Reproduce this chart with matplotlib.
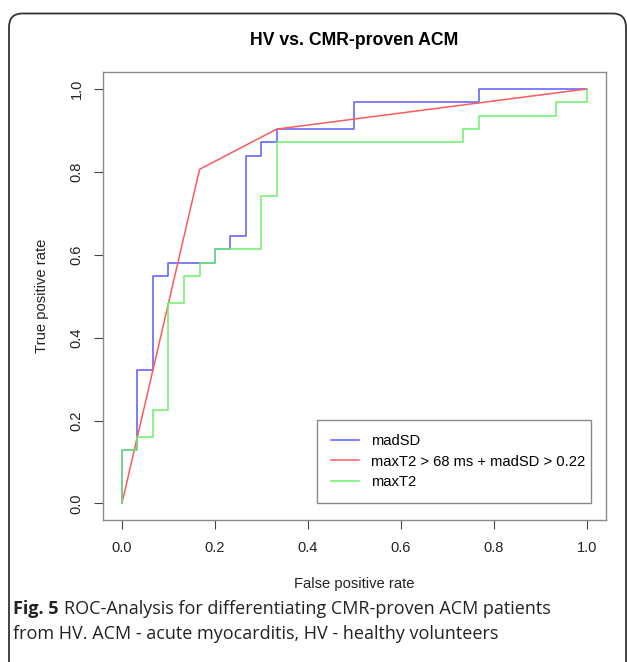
import matplotlib
matplotlib.use("Agg")
import matplotlib.pyplot as plt
from matplotlib.patches import FancyBboxPatch

plt.rcParams['font.family'] = ['Liberation Sans', 'DejaVu Sans']

# ROC points (false positive rate, true positive rate)
fpr_madsd = [0, 0, 0.033, 0.067, 0.100, 0.200, 0.233, 0.267, 0.300, 0.333, 0.500, 0.767, 1.0]
tpr_madsd = [0, 0.129, 0.323, 0.548, 0.581, 0.613, 0.645, 0.839, 0.871, 0.903, 0.968, 1.0, 1.0]

fpr_maxt2 = [0, 0, 0.033, 0.067, 0.100, 0.133, 0.167, 0.200, 0.300, 0.333, 0.733, 0.767, 0.933, 1.0]
tpr_maxt2 = [0, 0.129, 0.161, 0.226, 0.484, 0.548, 0.581, 0.613, 0.742, 0.871, 0.903, 0.935, 0.968, 1.0]

fpr_comb = [0, 0.167, 0.333, 1.0]
tpr_comb = [0, 0.806, 0.903, 1.0]

labels = ['madSD', 'maxT2 > 68 ms + madSD > 0.22', 'maxT2']
ticks = [0.0, 0.2, 0.4, 0.6, 0.8, 1.0]

W, H = 627, 662
fig = plt.figure(figsize=(W / 100, H / 100), dpi=100)

# rounded frame around figure + caption (bottom runs off the image)
frame = FancyBboxPatch((9 / W, -0.03), (626 - 9) / W, 1 - 13.5 / H + 0.03,
                       boxstyle="round,pad=0,rounding_size=0.021",
                       transform=fig.transFigure, fill=False,
                       edgecolor='#333333', linewidth=1.3)
fig.patches.append(frame)

ax = fig.add_axes([103.3 / W, 1 - 520 / H, 502.4 / W, 447.7 / H])
ax.plot(fpr_madsd, tpr_madsd, drawstyle='steps-post', color='#5a5aff', lw=1.1, label=labels[0])
ax.plot(fpr_comb, tpr_comb, color='#ff5a5a', lw=1.1, label=labels[1])
ax.plot(fpr_maxt2, tpr_maxt2, drawstyle='steps-post', color='#6cf06c', lw=1.1, label=labels[2])

ax.set_xlim(-0.04, 1.04)
ax.set_ylim(-0.04, 1.04)
ax.set_xticks(ticks)
ax.set_yticks(ticks)
ax.set_xticklabels(['%.1f' % t for t in ticks])
ax.set_yticklabels(['%.1f' % t for t in ticks], rotation=90, va='center')
ax.tick_params(direction='out', length=6.5, width=0.8, colors='#444444',
               labelsize=10.5, labelcolor='#222222')
ax.tick_params(axis='x', pad=8.5)
ax.tick_params(axis='y', pad=7.5)
for s in ax.spines.values():
    s.set_color('#8a8a8a')
    s.set_linewidth(1.0)

ax.set_xlabel('False positive rate', fontsize=10.6, color='#222222', labelpad=16)
ax.set_ylabel('True positive rate', fontsize=10.6, color='#222222', labelpad=15)
ax.set_title('HV vs. CMR-proven ACM', fontsize=12.7, fontweight='bold', pad=20)

leg = ax.legend(loc='lower left', bbox_to_anchor=(0.426, 0.0386, 0.544, 0.18),
                mode='expand', fontsize=10.6, handlelength=1.85, handletextpad=0.85,
                borderpad=0.95, labelspacing=0.42, borderaxespad=0,
                fancybox=False, framealpha=1)
leg.get_frame().set_edgecolor('#888888')
leg.get_frame().set_linewidth(1.0)

# caption: bold "Fig. 5" followed by regular text
cap_font = ['Open Sans', 'DejaVu Sans']
fig_lbl = fig.text(13 / W, 1 - 614 / H, 'Fig. 5', fontsize=13, fontweight='bold',
                   family=cap_font, color='#222222', va='baseline')
renderer = fig.canvas.get_renderer()
bb = fig_lbl.get_window_extent(renderer)
fig.text((bb.x1 + 5) / W, 1 - 614 / H,
         'ROC-Analysis for differentiating CMR-proven ACM patients',
         fontsize=13, family=cap_font, color='#222222', va='baseline')
fig.text(13 / W, 1 - 639 / H,
         'from HV. ACM - acute myocarditis, HV - healthy volunteers',
         fontsize=13, family=cap_font, color='#222222', va='baseline')

fig.savefig('out.png', dpi=100)
